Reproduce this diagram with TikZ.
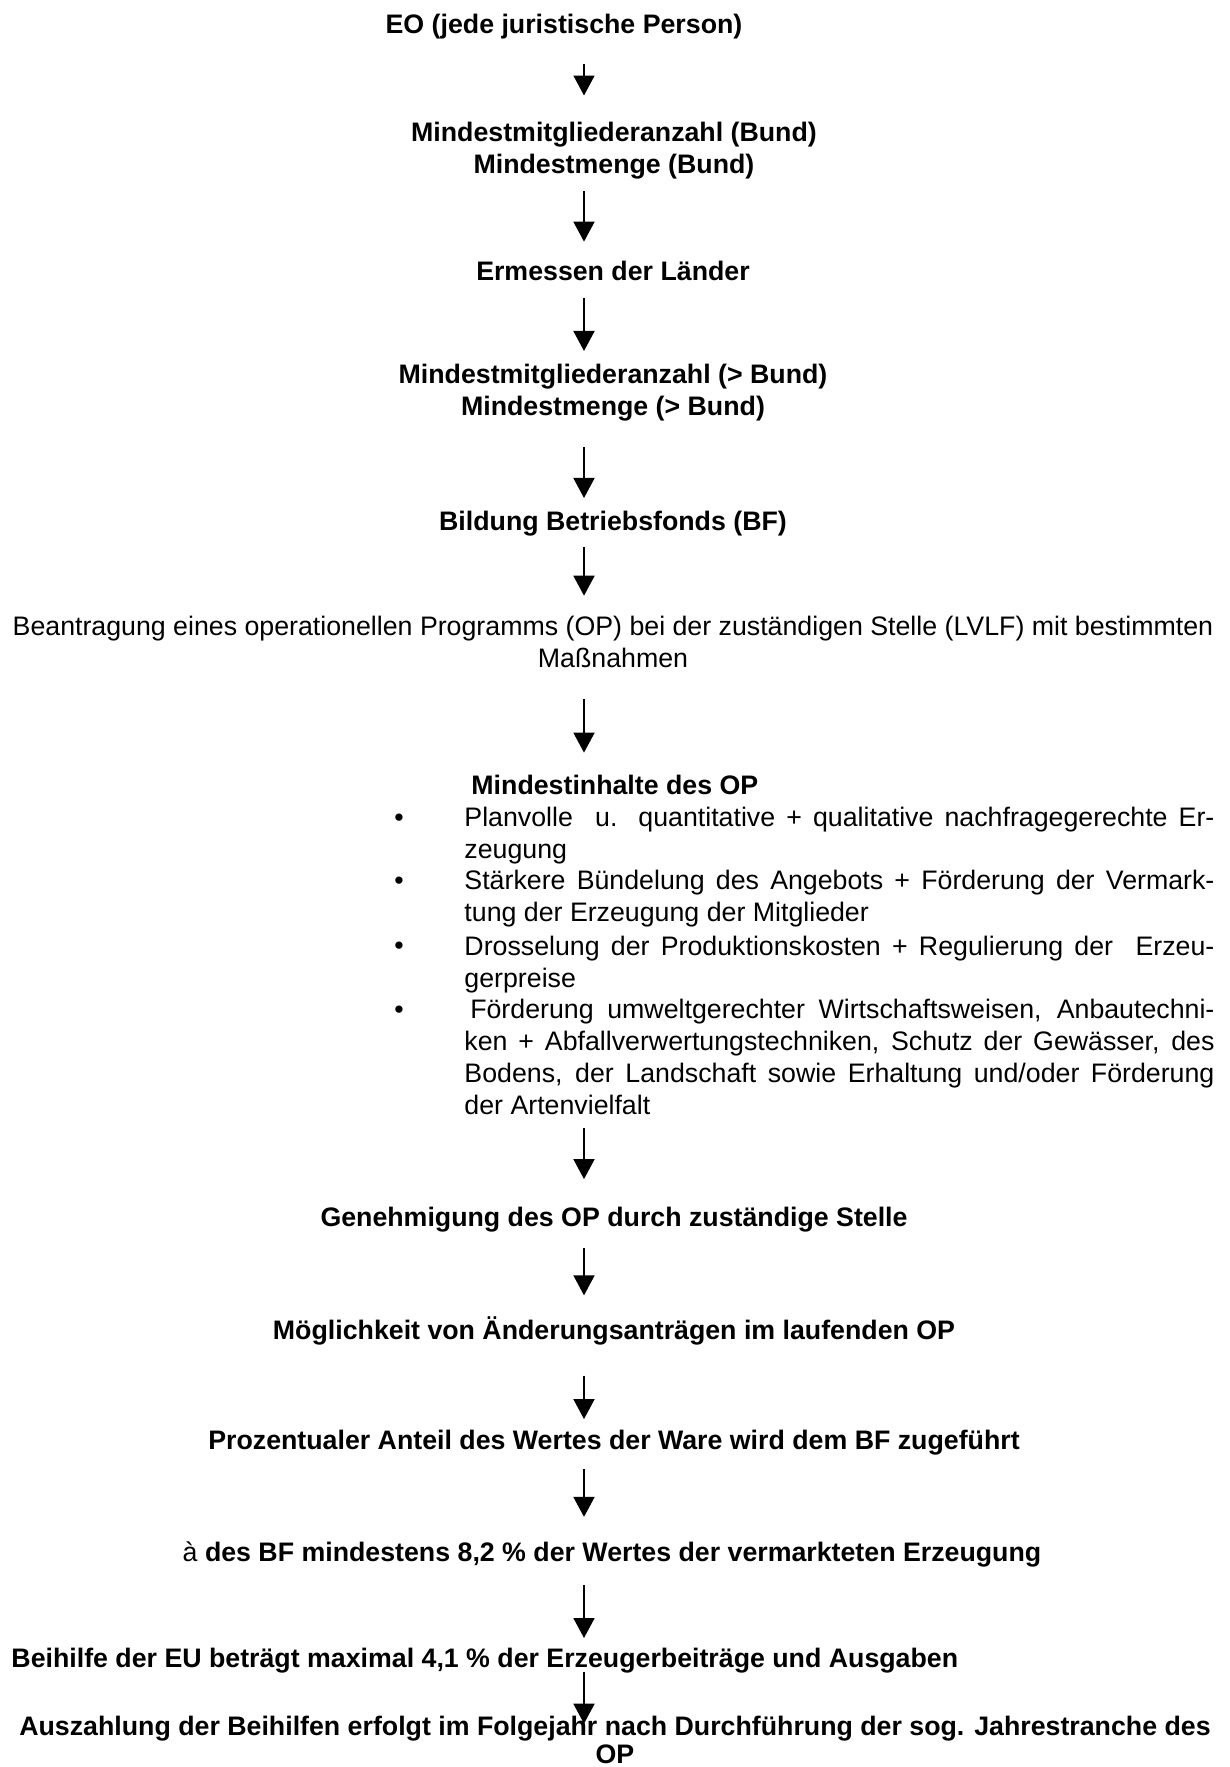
\documentclass[tikz,border=0pt]{standalone}
\usepackage{fontspec}
\setmainfont{Liberation Sans}
\usepackage{tikz}
\usetikzlibrary{arrows.meta}
\newlength\listwidth
\setlength\listwidth{322.5pt}
\tikzstyle{boldtext}=[inner sep=0pt, align=center, font=\bfseries\fontsize{11.5}{13.76}\selectfont]
\tikzstyle{plaintext}=[inner sep=0pt, align=center, font=\fontsize{11.5}{13.76}\selectfont]
\tikzstyle{listtext}=[inner sep=0pt, align=left, anchor=base west, font=\fontsize{11.5}{13.76}\selectfont]
\tikzstyle{dot}=[inner sep=0pt, anchor=base, font=\fontsize{11.5}{13.76}\selectfont]
\tikzstyle{flowArrow}=[line width=0.85pt, -{Triangle[length=8.6pt,width=9pt]}]

\begin{document}
\begin{tikzpicture}[x=0.43pt, y=-0.43pt]
    \useasboundingbox (0,0) rectangle (1229,1767);
    \coordinate (axis) at (584,0);

    % nodes
    \node[boldtext] (eo) at (564, 27) {EO (jede juristische Person)};
    \node[boldtext] (bund) at (614, 151) {Mindestmitgliederanzahl (Bund)\\Mindestmenge (Bund)};
    \node[boldtext] (laender) at (613, 271) {Ermessen der Länder};
    \node[boldtext] (land) at (613, 393) {Mindestmitgliederanzahl (> Bund)\\Mindestmenge (> Bund)};
    \node[boldtext] (bf) at (613, 524) {Bildung Betriebsfonds (BF)};
    \node[plaintext] (antrag) at (613, 642) {Beantragung eines operationellen Programms (OP) bei der zuständigen Stelle (LVLF) mit bestimmten\\Maßnahmen};

    % Mindestinhalte (base = last line)
    \node[boldtext, anchor=west] (inhalt) at (471, 785) {Mindestinhalte des OP};
    \node[dot] (d1) at (399, 826) {•};
    \node[listtext] (b1) at (464, 858) {\makebox[\listwidth][s]{Planvolle\ \ u. quantitative + qualitative nachfragegerechte Er-}\\zeugung};
    \node[dot] (d2) at (399, 889) {•};
    \node[listtext] (b2) at (464, 921) {\makebox[\listwidth][s]{Stärkere Bündelung des Angebots + Förderung der Vermark-}\\tung der Erzeugung der Mitglieder};
    \node[dot] (d3) at (399, 954) {•};
    \node[listtext] (b3) at (464, 987) {\makebox[\listwidth][s]{Drosselung der Produktionskosten + Regulierung der\ \ Erzeu-}\\gerpreise};
    \node[dot] (d4) at (399, 1018) {•};
    \node[listtext] (b4) at (464, 1114) {\makebox[\listwidth][s]{\hspace*{2.5pt}Förderung umweltgerechter Wirtschaftsweisen, Anbautechni-}\\\makebox[\listwidth][s]{ken + Abfallverwertungstechniken, Schutz der Gewässer, des}\\\makebox[\listwidth][s]{Bodens, der Landschaft sowie Erhaltung und/oder Förderung}\\der Artenvielfalt};

    \node[boldtext] (gen) at (614, 1220) {Genehmigung des OP durch zuständige Stelle};
    \node[boldtext] (aend) at (614, 1331) {Möglichkeit von Änderungsanträgen im laufenden OP};
    \node[boldtext] (anteil) at (614, 1443) {Prozentualer Anteil des Wertes der Ware wird dem BF zugeführt};
    \node[boldtext] (mind) at (612, 1554) {\mdseries à \bfseries des BF mindestens 8,2 \% der Wertes der vermarkteten Erzeugung};
    \node[boldtext, anchor=west] (eu) at (11, 1661) {Beihilfe der EU beträgt maximal 4,1 \% der Erzeugerbeiträge und Ausgaben};
    \node[boldtext, font=\bfseries\fontsize{11.5}{12}\selectfont] (ausz) at (615, 1740) {Auszahlung der Beihilfen erfolgt im Folgejahr nach Durchführung der sog. Jahrestranche des\\OP};

    % arrows
    \draw[flowArrow, shorten <=10.3pt, shorten >=11.4pt] (eo.south -| axis) -- (bund.north -| axis);
    \draw[flowArrow, shorten <=4.9pt, shorten >=8.2pt] (bund.south -| axis) -- (laender.north -| axis);
    \draw[flowArrow, shorten <=7.3pt, shorten >=5.6pt] (laender.south -| axis) -- (land.north -| axis);
    \draw[flowArrow, shorten <=10.8pt, shorten >=5.6pt] (land.south -| axis) -- (bf.north -| axis);
    \draw[flowArrow, shorten <=4.3pt, shorten >=8.6pt] (bf.south -| axis) -- (antrag.north -| axis);
    \draw[flowArrow, shorten <=13.3pt, shorten >=9.5pt] (antrag.south -| axis) -- (inhalt.north -| axis);
    \draw[flowArrow, shorten <=5.6pt, shorten >=12pt] (b4.south -| axis) -- (gen.north -| axis);
    \draw[flowArrow, shorten <=6.5pt, shorten >=9pt] (gen.south -| axis) -- (aend.north -| axis);
    \draw[flowArrow, shorten <=12.9pt, shorten >=4.7pt] (aend.south -| axis) -- (anteil.north -| axis);
    \draw[flowArrow, shorten <=5.6pt, shorten >=10.3pt] (anteil.south -| axis) -- (mind.north -| axis);
    \draw[flowArrow, shorten <=7.7pt, shorten >=4.3pt] (mind.south -| axis) -- (eu.north -| axis);
    \draw[flowArrow, shorten <=-0.9pt, shorten >=-3.4pt] (eu.south -| axis) -- (ausz.north -| axis);
\end{tikzpicture}
\end{document}
